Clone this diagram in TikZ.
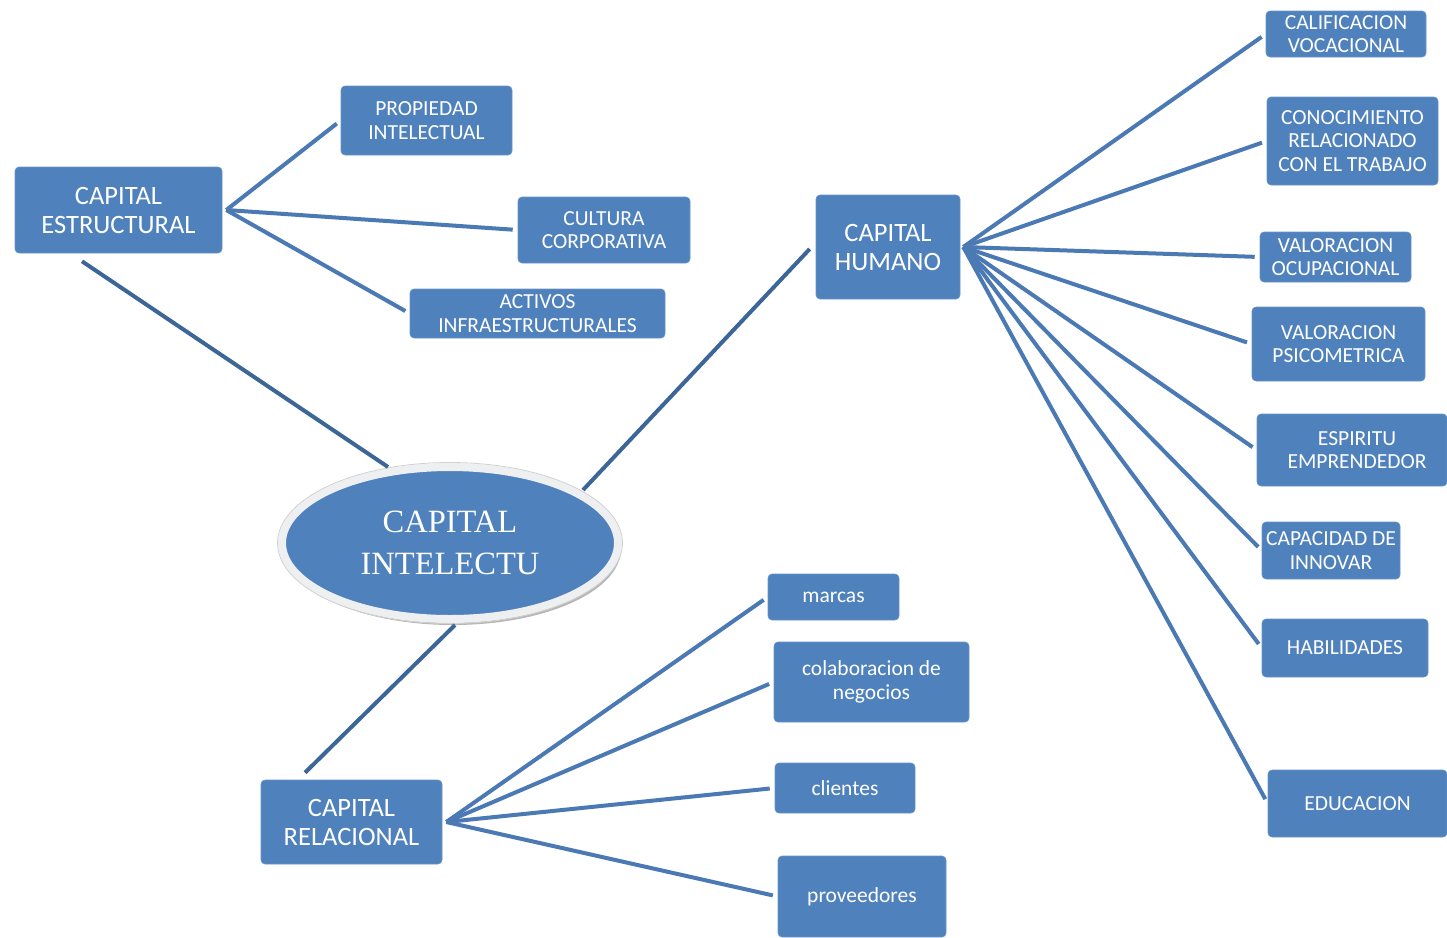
\documentclass[tikz,border=0pt]{standalone}
\usepackage{fontspec}
\setmainfont{Carlito}
\newfontfamily\ellfont{Liberation Serif}
\usetikzlibrary{calc,shapes.geometric,shadows}
\definecolor{boxblue}{HTML}{4F81BD}
\definecolor{spoke}{HTML}{4A79B4}
\definecolor{trunk}{HTML}{3C6698}
\definecolor{rim}{HTML}{EEEFF1}
\tikzset{
  box/.style={draw=boxblue!85!white, line width=0.6pt, fill=boxblue, rounded corners=4pt,
    text=white, align=center, inner sep=0pt, font=\fontsize{21.5}{23.5}\selectfont},
  bigbox/.style={box, font=\fontsize{26.5}{29}\selectfont},
  spokeline/.style={draw=spoke, line width=4pt, shorten >=5pt},
  trunkline/.style={draw=trunk, line width=4pt},
}
\begin{document}
\begin{tikzpicture}[x=1pt, y={(0,-1pt)}]
\useasboundingbox (0,0) rectangle (1447,937);

% main categories
\node[bigbox, minimum width=207, minimum height=86] (est) at (118.5,210) {CAPITAL\\ESTRUCTURAL};
\node[bigbox, minimum width=144, minimum height=104] (hum) at (888,247) {CAPITAL\\HUMANO};
\node[bigbox, minimum width=181, minimum height=84] (rel) at (351.5,822) {CAPITAL\\RELACIONAL};

% structural capital items
\node[box, minimum width=171, minimum height=69] (prop) at (426.5,120.5) {PROPIEDAD\\INTELECTUAL};
\node[box, minimum width=172, minimum height=66] (cult) at (604,230) {CULTURA\\CORPORATIVA};
\node[box, minimum width=255, minimum height=49] (act) at (537.5,313.5) {ACTIVOS\\INFRAESTRUCTURALES};

% human capital items
\node[box, minimum width=160, minimum height=46] (cal) at (1346,34) {CALIFICACION\\VOCACIONAL};
\node[box, minimum width=171, minimum height=88] (con) at (1352.5,141) {CONOCIMIENTO\\RELACIONADO\\CON EL TRABAJO};
\node[box, minimum width=151, minimum height=50] (vocu) at (1335.5,257) {VALORACION\\OCUPACIONAL};
\node[box, minimum width=173, minimum height=74] (vpsi) at (1338.5,344) {VALORACION\\PSICOMETRICA};
\node[box, minimum width=190, minimum height=72] (esp) at (1352,450) {\hspace*{10pt}ESPIRITU\\\hspace*{10pt}EMPRENDEDOR};
\node[box, minimum width=138, minimum height=57] (inn) at (1331,550.5) {CAPACIDAD DE\\INNOVAR};
\node[box, minimum width=166, minimum height=58] (hab) at (1345,648) {HABILIDADES};
\node[box, minimum width=179, minimum height=67] (edu) at (1357.5,803.5) {EDUCACION};

% relational capital items
\node[box, minimum width=131, minimum height=46] (mar) at (833.5,597) {marcas};
\node[box, minimum width=195, minimum height=80] (col) at (871.5,682) {colaboracion de\\negocios};
\node[box, minimum width=140, minimum height=50] (cli) at (845,788) {clientes};
\node[box, minimum width=168, minimum height=81] (prov) at (862,896.5) {proveedores};

% central ellipse
\node[ellipse, minimum width=336, minimum height=152, fill=boxblue, draw=rim, line width=8pt,
  drop shadow={shadow xshift=3pt, shadow yshift=-6pt, fill=black!40, opacity=0.7},
  text=white, align=center, font=\ellfont\fontsize{32.5}{42}\selectfont] (ell) at (450,543)
  {CAPITAL\\INTELECTU};
\draw[black!18, line width=0.8pt] (ell.center) ellipse [x radius=172.5, y radius=80.5];

% hubs beside the main categories
\coordinate (hE) at ($(est.east)+(4,0)$);
\coordinate (hH) at ($(hum.east)+(3,0)$);
\coordinate (hR) at ($(rel.east)+(4,0)$);

% trunk connectors
\coordinate (e1) at ($(est.south)+(-36.5,8)$);
\coordinate (e2) at ($(ell.center)+(-62,-76)$);
\coordinate (h1) at ($(ell.center)+(133,-53)$);
\coordinate (h2) at ($(hum.west)+(-6,2)$);
\coordinate (r1) at ($(ell.center)+(5,82)$);
\coordinate (r2) at ($(rel.north)+(-46.5,-7)$);
\draw[trunkline] (e1) -- (e2);
\draw[trunkline] (h1) -- (h2);
\draw[trunkline] (r1) -- (r2);

% spokes
\foreach \t in {prop,cult,act} \draw[spokeline] (hE) -- (\t.west);
\foreach \t in {cal,con,vocu,vpsi,esp,inn,hab,edu} \draw[spokeline] (hH) -- (\t.west);
\foreach \t in {mar,col,cli,prov} \draw[spokeline] (hR) -- (\t.west);
\end{tikzpicture}
\end{document}
